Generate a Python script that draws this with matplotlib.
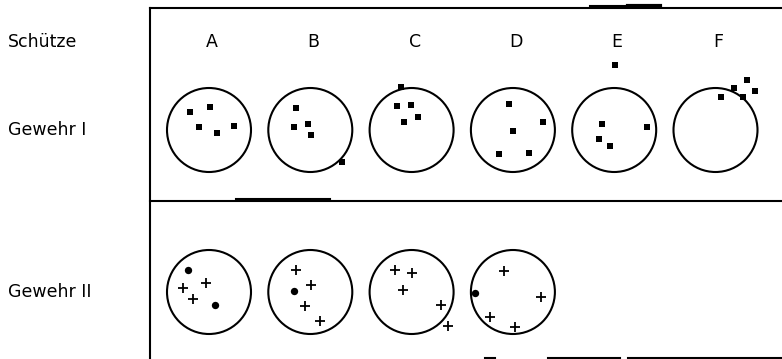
import matplotlib
matplotlib.use("Agg")
import matplotlib.pyplot as plt
from matplotlib.patches import Circle

shooters = ["A", "B", "C", "D", "E", "F"]
rifles = ["Gewehr I", "Gewehr II"]
header = "Schütze"

# shot positions relative to target centre, in units of the target radius (y up)
rifle1_shots = {
    "A": [(-0.45, 0.44), (0.02, 0.54), (-0.24, 0.08), (0.18, -0.06), (0.60, 0.10)],
    "B": [(-0.33, 0.52), (-0.40, 0.08), (-0.06, 0.14), (0.02, -0.12), (0.76, -0.75)],
    "C": [(-0.25, 1.02), (-0.34, 0.56), (-0.01, 0.59), (0.15, 0.32), (-0.17, 0.19)],
    "D": [(-0.09, 0.63), (0.71, 0.20), (0.00, -0.02), (-0.32, -0.56), (0.38, -0.54)],
    "E": [(0.02, 1.54), (-0.29, 0.14), (0.79, 0.06), (-0.36, -0.22), (-0.10, -0.37)],
    "F": [(0.13, 0.78), (0.45, 0.99), (0.74, 1.19), (0.94, 0.94), (0.66, 0.79)],
}
rifle2_shots = {
    "A": [(-0.49, 0.52), (-0.63, 0.10), (-0.06, 0.21), (-0.37, -0.16), (0.14, -0.32)],
    "B": [(-0.34, 0.52), (0.01, 0.17), (-0.40, 0.03), (-0.13, -0.34), (0.23, -0.70)],
    "C": [(-0.40, 0.52), (0.02, 0.46), (-0.20, 0.05), (0.69, -0.31), (0.87, -0.80)],
    "D": [(-0.22, 0.50), (-0.90, -0.03), (0.67, -0.13), (-0.54, -0.59), (0.04, -0.83)],
}
# how each rifle-II hit appears in the scan: "+" cross, "o" blot
rifle2_marks = {
    "A": ["o", "+", "+", "+", "o"],
    "B": ["+", "+", "o", "+", "+"],
    "C": ["+", "+", "+", "+", "+"],
    "D": ["+", "o", "+", "+", "+"],
}

W, H = 782, 359
fig = plt.figure(figsize=(W / 100, H / 100), dpi=100)
ax = fig.add_axes([0, 0, 1, 1])
ax.set_xlim(0, W)
ax.set_ylim(H, 0)
ax.axis("off")

x0, dxs = 209, 101.3
row_y = [130, 292]
r = 42
fs = 12.5

# frame
ax.plot([150, 150], [8, H], color="black", lw=1.5)
ax.plot([150, W], [8, 8], color="black", lw=1.5)
ax.plot([150, W], [201, 201], color="black", lw=1.5)
ax.plot([590, 628], [6, 6], color="black", lw=1.5)
ax.plot([628, 660], [6, 6], color="black", lw=3)
ax.plot([236, 330], [199, 199], color="black", lw=1.5)
ax.plot([485, 495], [358, 358], color="black", lw=1.5)
ax.plot([548, 620], [358, 358], color="black", lw=1.5)
ax.plot([628, 782], [358, 358], color="black", lw=1.5)

ax.text(8, 42, header, fontsize=fs, va="center", ha="left")
for i, s in enumerate(shooters):
    ax.text(x0 + i * dxs + 3, 42, s, fontsize=fs, va="center", ha="center")
for j, name in enumerate(rifles):
    ax.text(8, row_y[j], name, fontsize=fs, va="center", ha="left")

for j, shots in enumerate([rifle1_shots, rifle2_shots]):
    cy = row_y[j]
    for i, s in enumerate(shooters):
        if s not in shots:
            continue
        cx = x0 + i * dxs
        ax.add_patch(Circle((cx, cy), r, fill=False, ec="black", lw=1.5))
        xs = [cx + dx * r for dx, dy in shots[s]]
        ys = [cy - dy * r for dx, dy in shots[s]]
        if j == 0:
            ax.scatter(xs, ys, marker="s", s=18, color="black", lw=0)
        else:
            for x, y, m in zip(xs, ys, rifle2_marks[s]):
                if m == "+":
                    ax.scatter([x], [y], marker="+", s=60, color="black", lw=1.3)
                else:
                    ax.scatter([x], [y], marker="o", s=28, color="black", lw=0)

fig.savefig("out.png", dpi=100)
